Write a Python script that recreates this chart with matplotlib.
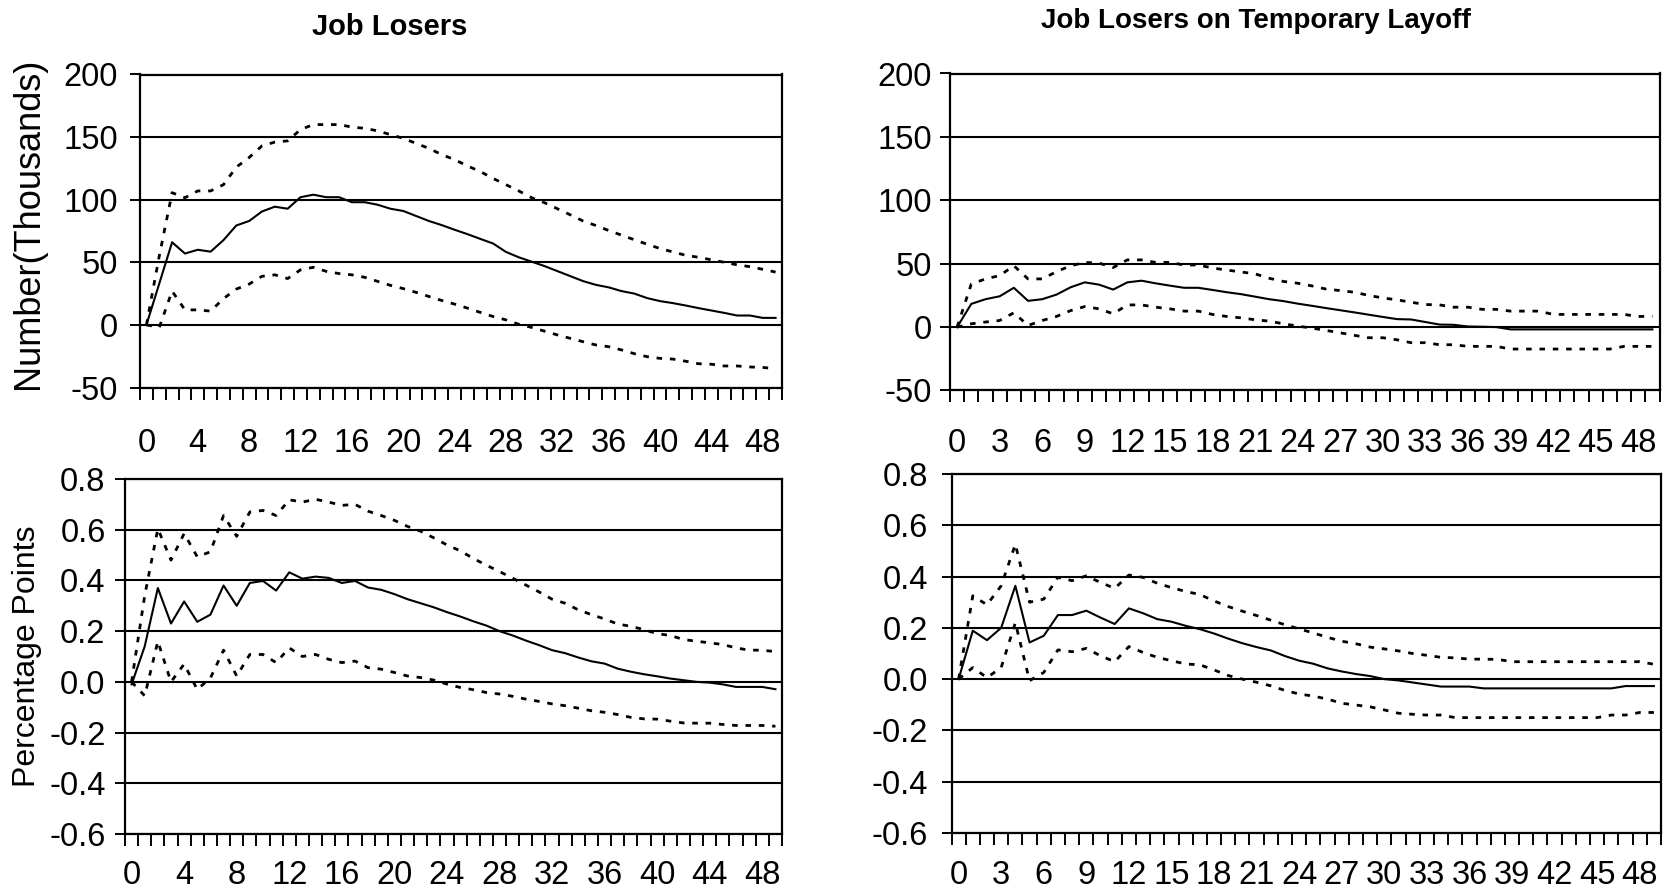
import numpy as np
import matplotlib
matplotlib.use("Agg")
import matplotlib.pyplot as plt

plt.rcParams['font.family'] = ['Liberation Sans', 'DejaVu Sans']
plt.rcParams['axes.unicode_minus'] = False

# Months after the shock (0..49)
months = np.arange(50)

# Job losers, thousands: response and confidence band
jl_num = [0, 33, 66, 57, 60, 58.5, 67.7, 79.4, 83, 90.6,
          94.4, 92.8, 102, 104, 102, 102, 98, 98, 96, 92.8,
          91, 87, 83, 79.7, 76, 72.5, 68.7, 65, 58.3, 54,
          50.5, 47, 43, 39, 35, 32, 30, 27, 25, 21.4,
          19, 17.4, 15.5, 13.4, 11.5, 9.6, 7.5, 7.5, 5.6, 5.6]
jl_num_hi = [0, 55, 105.6, 101.6, 107, 107, 112, 126, 133.7, 143,
             146, 147, 156, 160, 160, 160, 158, 157, 155, 152,
             149, 145, 141, 136, 132, 127, 122.5, 117, 112, 107,
             101.6, 97.6, 92.8, 88, 83, 79.4, 75.4, 71.7, 68, 64.4,
             61, 58.3, 55.6, 54, 52, 50, 48, 46.5, 44.4, 42.2]
jl_num_lo = [0, -2, 27, 12, 12, 11, 21, 28.6, 32.6, 38.8,
             40, 37, 44, 46, 42.8, 41, 40, 38, 34.8, 31.6,
             29, 26, 22.7, 19.5, 16.6, 13.4, 10, 6.7, 4, 0.5,
             -2, -5, -8, -10.7, -13.4, -16, -17.4, -20, -23, -25.4,
             -26.7, -27.3, -29, -31, -31.4, -32.8, -32.8, -33.6, -34, -34.9]

# Job losers on temporary layoff, thousands
tl_num = [0, 18.3, 22, 24.3, 31, 20.7, 22, 25.6, 31.4, 35.3,
          33.5, 29.6, 35.3, 36.6, 34.5, 32.7, 31, 31, 29.3, 27.5,
          26, 24, 22, 20.5, 18.5, 16.8, 15, 13.3, 11.6, 9.8,
          8, 6.3, 6, 4, 2, 1.8, 0.5, 0.3, 0, -1.8,
          -1.8, -1.8, -1.8, -1.8, -1.8, -1.8, -1.8, -1.8, -1.8, -1.8]
tl_num_hi = [0, 34, 38, 40.6, 48.4, 38, 38, 43.7, 48.4, 51,
             50.5, 47, 53, 53, 51, 51, 49, 49, 46.6, 45,
             43.5, 42, 38.5, 36, 34.6, 32.5, 30, 28.8, 27.5, 25,
             23, 21.5, 19.6, 17.8, 17.5, 15.7, 15.7, 14, 14, 12.6,
             12.6, 12.6, 10, 10, 10, 10, 10, 10, 8.4, 8.4]
tl_num_lo = [0, 2.6, 4, 5.2, 11.3, 1.3, 5.2, 8.4, 13, 16.2,
             14.4, 10.5, 17.5, 17.5, 15.7, 14.4, 12.6, 12.6, 10, 8.4,
             7.3, 5.8, 4.7, 2.6, 0.8, -0.8, -2.6, -4.5, -6.5, -8.4,
             -8.4, -10, -12.3, -12.3, -13.9, -13.9, -15.2, -15.2, -15.2, -17.3,
             -17.3, -17.3, -17.3, -17.3, -17.3, -17.3, -17.3, -15.2, -15.2, -15.2]

# Job losers, percentage points
jl_pp = [-0.01, 0.14, 0.37, 0.23, 0.317, 0.237, 0.265, 0.38, 0.30, 0.39,
         0.398, 0.36, 0.432, 0.407, 0.415, 0.41, 0.39, 0.398, 0.372, 0.363,
         0.346, 0.326, 0.31, 0.294, 0.275, 0.258, 0.239, 0.222, 0.2, 0.183,
         0.163, 0.145, 0.125, 0.113, 0.096, 0.081, 0.072, 0.052, 0.04, 0.03,
         0.022, 0.013, 0.0065, 0.0, -0.003, -0.01, -0.02, -0.02, -0.02, -0.029]
jl_pp_hi = [0, 0.34, 0.604, 0.48, 0.585, 0.493, 0.513, 0.656, 0.574, 0.67,
            0.676, 0.656, 0.718, 0.709, 0.72, 0.709, 0.696, 0.7, 0.673, 0.656,
            0.637, 0.613, 0.594, 0.568, 0.54, 0.517, 0.487, 0.46, 0.435, 0.409,
            0.382, 0.355, 0.326, 0.31, 0.284, 0.265, 0.248, 0.228, 0.219, 0.206,
            0.19, 0.183, 0.167, 0.16, 0.154, 0.147, 0.134, 0.125, 0.125, 0.119]
jl_pp_lo = [0, -0.055, 0.16, 0.0, 0.07, -0.03, 0.015, 0.125, 0.023, 0.108,
            0.108, 0.076, 0.134, 0.1, 0.108, 0.089, 0.076, 0.082, 0.056, 0.05,
            0.037, 0.023, 0.017, 0.007, -0.009, -0.022, -0.031, -0.042, -0.048, -0.057,
            -0.068, -0.077, -0.087, -0.094, -0.104, -0.114, -0.12, -0.129, -0.14, -0.146,
            -0.147, -0.155, -0.162, -0.163, -0.163, -0.168, -0.172, -0.172, -0.172, -0.175]

# Job losers on temporary layoff, percentage points
tl_pp = [0, 0.189, 0.152, 0.2, 0.364, 0.143, 0.169, 0.25, 0.25, 0.267,
         0.24, 0.215, 0.276, 0.257, 0.234, 0.224, 0.208, 0.195, 0.178, 0.158,
         0.14, 0.125, 0.112, 0.09, 0.072, 0.06, 0.042, 0.03, 0.02, 0.012,
         0.0, -0.005, -0.013, -0.021, -0.029, -0.029, -0.029, -0.036, -0.036, -0.036,
         -0.036, -0.036, -0.036, -0.036, -0.036, -0.036, -0.036, -0.027, -0.027, -0.027]
tl_pp_hi = [0, 0.325, 0.29, 0.364, 0.526, 0.3, 0.312, 0.397, 0.384, 0.403,
            0.377, 0.354, 0.406, 0.397, 0.374, 0.357, 0.342, 0.33, 0.305, 0.283,
            0.265, 0.248, 0.23, 0.212, 0.196, 0.18, 0.163, 0.148, 0.138, 0.125,
            0.118, 0.11, 0.1, 0.093, 0.085, 0.083, 0.078, 0.078, 0.077, 0.068,
            0.068, 0.068, 0.068, 0.068, 0.068, 0.068, 0.068, 0.068, 0.068, 0.058]
tl_pp_lo = [0, 0.045, 0.006, 0.045, 0.22, -0.006, 0.026, 0.114, 0.107, 0.12,
            0.091, 0.068, 0.127, 0.104, 0.085, 0.072, 0.059, 0.056, 0.036, 0.014,
            0.0, -0.012, -0.026, -0.044, -0.058, -0.066, -0.078, -0.094, -0.101, -0.108,
            -0.12, -0.133, -0.137, -0.14, -0.14, -0.15, -0.15, -0.15, -0.15, -0.15,
            -0.15, -0.15, -0.15, -0.15, -0.15, -0.15, -0.14, -0.14, -0.13, -0.13]

num_ticks = [-50, 0, 50, 100, 150, 200]
pp_ticks = [-0.6, -0.4, -0.2, 0.0, 0.2, 0.4, 0.6, 0.8]

W, H = 1669, 892
fig = plt.figure(figsize=(W / 100, H / 100), dpi=100)


def add_panel(x0, y0, x1, y1):
    # box given in pixels from the top-left corner
    return fig.add_axes([x0 / W, 1 - y1 / H, (x1 - x0) / W, (y1 - y0) / H])


def draw_panel(ax, est, lo, hi, yticks, fmt, step, xpad, ypad):
    dots = (0, (2.0, 2.8))
    ax.plot(months, hi, color='black', lw=2.0, ls=dots, zorder=3)
    ax.plot(months, lo, color='black', lw=2.0, ls=dots, zorder=3)
    ax.plot(months, est, color='black', lw=1.5, zorder=4)

    ax.set_xlim(-0.5, 49.5)
    ax.set_ylim(yticks[0], yticks[-1])
    for v in yticks:
        ax.axhline(v, color='black', lw=1.5, zorder=1)
    ax.set_yticks(yticks)
    ax.set_yticklabels([fmt.format(v) for v in yticks])

    # labels under every step-th month, tick marks between months
    ax.set_xticks(months[::step])
    ax.set_xticks(np.arange(-0.5, 50, 1), minor=True)
    ax.tick_params(axis='x', which='major', length=0, pad=xpad, labelsize=23.5)
    ax.tick_params(axis='x', which='minor', length=8.5, width=1.4, direction='out')
    ax.tick_params(axis='y', length=7, width=1.4, direction='out', pad=ypad, labelsize=23.5)
    for s in ax.spines.values():
        s.set_linewidth(1.6)


ax1 = add_panel(140, 74.5, 782, 387.5)
draw_panel(ax1, jl_num, jl_num_lo, jl_num_hi, num_ticks, '{:g}', 4, 29.4, 9)

ax2 = add_panel(950, 73.5, 1659.5, 390.5)
draw_panel(ax2, tl_num, tl_num_lo, tl_num_hi, num_ticks, '{:g}', 3, 27.2, 6)

ax3 = add_panel(125, 479, 782, 834)
draw_panel(ax3, jl_pp, jl_pp_lo, jl_pp_hi, pp_ticks, '{:.1f}', 4, 18.7, 7)

ax4 = add_panel(951.5, 474, 1661, 833)
draw_panel(ax4, tl_pp, tl_pp_lo, tl_pp_hi, pp_ticks, '{:.1f}', 3, 19.4, 10)

fig.text(390 / W, 1 - 27 / H, 'Job Losers', ha='center', va='center',
         fontsize=21, fontweight='bold')
fig.text(1256 / W, 1 - 21 / H, 'Job Losers on Temporary Layoff', ha='center', va='center',
         fontsize=20, fontweight='bold')
fig.text(29 / W, 1 - 223 / H, 'Number(Thousands)', rotation=90, ha='center', va='center',
         fontsize=26)
fig.text(27 / W, 1 - 656 / H, 'Percentage Points', rotation=90, ha='center', va='center',
         fontsize=23)

fig.savefig('out.png', dpi=100, facecolor='white')
